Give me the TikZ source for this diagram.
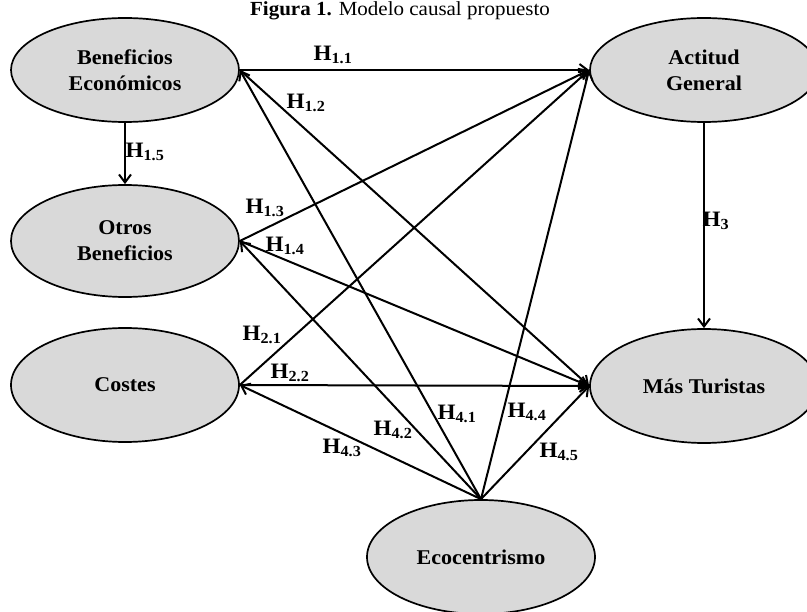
\documentclass[tikz,border=0pt]{standalone}
\usepackage{fontspec}
\setmainfont{Liberation Serif}[FakeStretch=1.05]
\usepackage{tikz}
\usetikzlibrary{
  shapes.geometric,
  arrows.meta
}
\definecolor{latentgray}{HTML}{D9D9D9}
\tikzset{
  ->,
  >={Straight Barb[length=8pt,width=12pt]},
  latent/.style={ellipse, draw, line width=1.7pt, fill=latentgray,
    minimum width=228pt, minimum height=114pt, inner sep=0pt,
    align=center, font=\fontsize{21}{26}\selectfont\bfseries},
  hyp/.style={font=\fontsize{22}{26}\selectfont\bfseries, inner sep=0pt},
  link/.style={line width=2pt}
}

\begin{document}
\begin{tikzpicture}[x=1pt, y=-1pt]
    \useasboundingbox (0,0) rectangle (807,612);
    \node[anchor=base, font=\fontsize{20}{22}\selectfont] (title) at (400,16) {\textbf{Figura 1.} Modelo causal propuesto};

    \node[latent, minimum height=104pt] (be) at (125,70) {Beneficios\\Económicos};
    \node[latent, minimum height=112pt] (ob) at (125,241) {Otros\\Beneficios};
    \node[latent] (co) at (125,385) {Costes};
    \node[latent, minimum height=104pt] (ag) at (704,70) {Actitud\\General};
    \node[latent] (mt) at (704,386) {Más Turistas};
    \node[latent] (eco) at (481,557) {Ecocentrismo};

    \draw[link] (be.east) -- (ag.west);
    \draw[link] (be.east) -- (mt.west);
    \draw[link] (be.south) -- (ob.north);
    \draw[link] (ob.east) -- (ag.west);
    \draw[link] (ob.east) -- (mt.west);
    \draw[link] (co.east) -- (ag.west);
    \draw[link] (co.east) -- (mt.west);
    \draw[link] (ag.south) -- (mt.north);
    \draw[link] (eco.north) -- (be.east);
    \draw[link] (eco.north) -- (ob.east);
    \draw[link] (eco.north) -- (co.east);
    \draw[link] (eco.north) -- (ag.west);
    \draw[link] (eco.north) -- (mt.west);

    \node[hyp] (h11) at (333,55) {H\textsubscript{1.1}};
    \node[hyp] (h12) at (306,103) {H\textsubscript{1.2}};
    \node[hyp] (h15) at (145,152) {H\textsubscript{1.5}};
    \node[hyp] (h13) at (265,208) {H\textsubscript{1.3}};
    \node[hyp] (h14) at (285,246) {H\textsubscript{1.4}};
    \node[hyp] (h21) at (262,335) {H\textsubscript{2.1}};
    \node[hyp] (h22) at (290,373) {H\textsubscript{2.2}};
    \node[hyp] (h3) at (716,221) {H\textsubscript{3}};
    \node[hyp] (h41) at (457,414) {H\textsubscript{4.1}};
    \node[hyp] (h42) at (393,430) {H\textsubscript{4.2}};
    \node[hyp] (h43) at (342,448) {H\textsubscript{4.3}};
    \node[hyp] (h44) at (527,412) {H\textsubscript{4.4}};
    \node[hyp] (h45) at (559,452) {H\textsubscript{4.5}};
  \end{tikzpicture}
\end{document}
